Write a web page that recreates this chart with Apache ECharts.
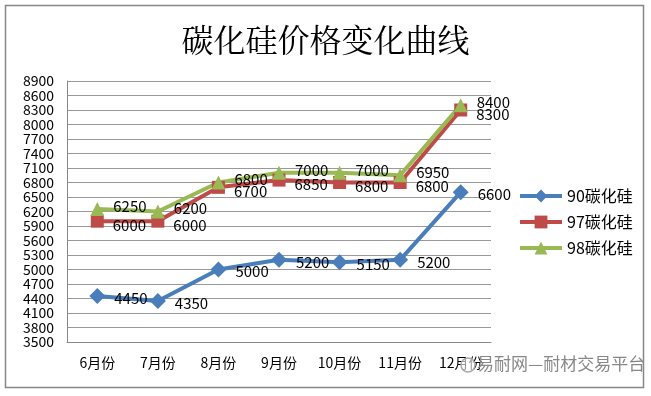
<!DOCTYPE html>
<html><head><meta charset="utf-8">
<script src="https://cdn.jsdelivr.net/npm/echarts@6/dist/echarts.min.js"></script>
<style>html,body{margin:0;padding:0;background:#fff}#c{width:651px;height:396px}</style>
</head><body><div id="c"></div>
<script>
const categories = ['6月份','7月份','8月份','9月份','10月份','11月份','12月份'];
const s90 = [4450, 4350, 5000, 5200, 5150, 5200, 6600];
const s97 = [6000, 6000, 6700, 6850, 6800, 6800, 8300];
const s98 = [6250, 6200, 6800, 7000, 7000, 6950, 8400];
const seriesNames = ['90碳化硅','97碳化硅','98碳化硅'];
const font = '"Noto Sans CJK SC", "Noto Sans", sans-serif';

const chart = echarts.init(document.getElementById('c'), null, {renderer:'canvas'});
function mk(name, data, color, symbol, size, offY) {
  return {
    name, type:'line', data, symbol, symbolSize: size,
    lineStyle:{width:4, color}, itemStyle:{color},
    label:{show:true, position:'right', distance:9, offset:[0,offY], color:'#000', fontSize:15, fontFamily:font},
    z: 2
  };
}
chart.setOption({
  animation:false,
  backgroundColor:'#fff',
  title:{text:'碳化硅价格变化曲线', left:'center', top:19,
    textStyle:{fontSize:32, fontWeight:'normal', color:'#000', fontFamily:'"Noto Serif CJK SC", "Noto Sans CJK SC", serif'}},
  grid:{left:67, right:160, top:81, bottom:54},
  legend:{orient:'vertical', left:513, top:183, itemWidth:42, itemHeight:16, itemGap:10,
    lineStyle:{width:4},
    textStyle:{fontSize:16, color:'#000', fontFamily:font}, data:seriesNames},
  xAxis:{type:'category', data:categories, boundaryGap:true,
    axisLine:{lineStyle:{color:'#888'}}, axisTick:{show:false},
    axisLabel:{color:'#000', fontSize:14, margin:14, fontFamily:font}},
  yAxis:{type:'value', min:3500, max:8900, interval:300,
    axisLine:{show:true, lineStyle:{color:'#888'}}, axisTick:{show:false},
    splitLine:{lineStyle:{color:'#999', width:1}},
    axisLabel:{color:'#000', fontSize:14, margin:13, fontFamily:font,
      showMinLabel:true, showMaxLabel:true, formatter:v => String(v)}},
  series:[
    mk(seriesNames[0], s90, '#4a7ebb', 'diamond', 16, 2),
    mk(seriesNames[1], s97, '#be4b48', 'rect', 13, 4),
    mk(seriesNames[2], s98, '#98b954', 'triangle', 14, -3)
  ],
  graphic:[
    {type:'rect', shape:{x:5.5, y:5.5, width:638, height:382}, style:{fill:null, stroke:'#888', lineWidth:1.5}, silent:true},
    {type:'circle', shape:{cx:468, cy:365, r:7}, style:{fill:'rgba(255,255,255,0.6)', stroke:'#aaa', lineWidth:1.5}, z:10},
    {type:'text', left:477, top:355, style:{text:'易耐网—耐材交易平台', fill:'#888', font:'17px ' + font}, z:10}
  ]
});
</script></body></html>
